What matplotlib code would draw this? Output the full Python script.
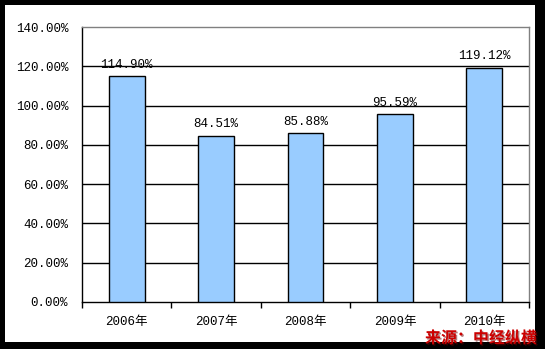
import matplotlib
matplotlib.use("Agg")
import matplotlib.pyplot as plt
from matplotlib.patches import Rectangle
import matplotlib.patheffects as pe

years = ["2006年", "2007年", "2008年", "2009年", "2010年"]
values = [114.90, 84.51, 85.88, 95.59, 119.12]
yticks = [0, 20, 40, 60, 80, 100, 120, 140]
source = "来源：中经纵横"

W, H = 545, 349
fig = plt.figure(figsize=(W / 100, H / 100), dpi=100)
fig.patch.set_facecolor("black")
fig.patches.append(Rectangle((5 / W, 1 - 342 / H), 530 / W, 337 / H,
                             transform=fig.transFigure, facecolor="white",
                             edgecolor="none", zorder=-5))

fam = ["Liberation Mono", "Noto Sans CJK SC", "DejaVu Sans"]
ax = fig.add_axes([82 / W, 1 - 302 / H, 447 / W, 275 / H])
ax.set_zorder(2)
ax.set_facecolor("white")

x = list(range(len(years)))
ax.bar(x, values, width=0.4, color="#99CCFF", edgecolor="black", linewidth=1.0, zorder=3)
for xi, v in zip(x, values):
    ax.annotate(f"{v:.2f}%", (xi, v), xytext=(0, 4), textcoords="offset points",
                ha="center", va="bottom", fontsize=9, family=fam, color="black", zorder=4)

ax.set_xlim(-0.5, len(years) - 0.5)
ax.set_ylim(0, 140)
ax.set_yticks(yticks)
ax.set_yticklabels([f"{t:.2f}%" for t in yticks], family=fam, fontsize=9)
ax.tick_params(axis="y", length=0, pad=10)
for t in yticks[1:-1]:
    ax.axhline(t, color="black", linewidth=1.0, zorder=1)

ax.set_xticks(x)
ax.set_xticklabels(years, family=fam, fontsize=9)
ax.tick_params(axis="x", length=0, pad=10)
ax.set_xticks([i - 0.5 for i in range(len(years) + 1)], minor=True)
ax.tick_params(axis="x", which="minor", length=4, width=1, color="black", direction="out")

ax.spines["left"].set_color("black")
ax.spines["bottom"].set_color("black")
ax.spines["top"].set_color("#808080")
ax.spines["right"].set_color("#808080")
for s in ax.spines.values():
    s.set_linewidth(1.0)

fig.text(537 / W, 1 - 346 / H, source, ha="right", va="bottom", fontsize=11.5,
         fontweight="bold", color="#CC0000", family=["Noto Sans CJK SC", "DejaVu Sans"],
         zorder=5,
         path_effects=[pe.withSimplePatchShadow(offset=(1, -1), shadow_rgbFace="#660000", alpha=0.5)])

fig.savefig("out.png", dpi=100, facecolor=fig.get_facecolor())
